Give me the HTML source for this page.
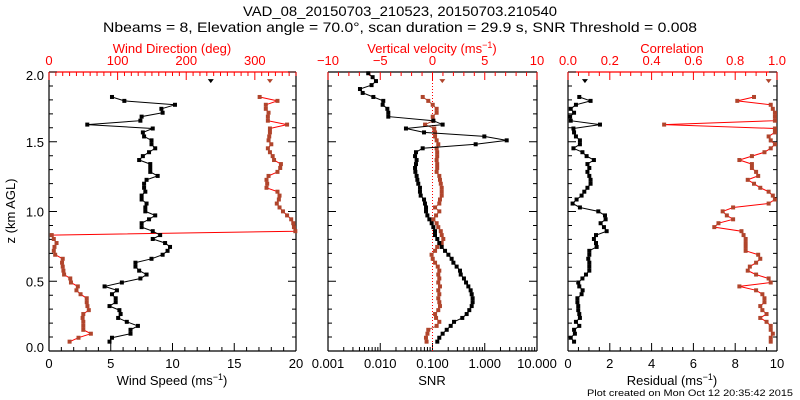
<!DOCTYPE html>
<html><head><meta charset="utf-8"><style>
body{margin:0;background:#fff}
svg{display:block}
text{font-family:"Liberation Sans",sans-serif}
</style></head><body>
<svg id="chart" width="800" height="400" viewBox="0 0 800 400" xmlns="http://www.w3.org/2000/svg">
<text x="400" y="16" font-size="14" text-anchor="middle" textLength="314" lengthAdjust="spacingAndGlyphs">VAD_08_20150703_210523, 20150703.210540</text>
<text x="400" y="32" font-size="14" text-anchor="middle" textLength="594" lengthAdjust="spacingAndGlyphs">Nbeams = 8, Elevation angle = 70.0°, scan duration = 29.9 s, SNR Threshold = 0.008</text>
<text transform="translate(15,211) rotate(-90)" font-size="13" text-anchor="middle">z (km AGL)</text>
<text x="793" y="396" font-size="9.5" text-anchor="end" textLength="206" lengthAdjust="spacingAndGlyphs">Plot created on Mon Oct 12 20:35:42 2015</text>
<g id="g"></g>
</svg>
<script>
const heights=[0.067,0.095,0.124,0.152,0.180,0.209,0.237,0.265,0.293,0.322,0.350,0.378,0.407,0.435,0.463,0.491,0.520,0.548,0.576,0.605,0.633,0.661,0.690,0.718,0.746,0.774,0.803,0.831,0.859,0.888,0.916,0.944,0.972,1.001,1.029,1.057,1.086,1.114,1.142,1.170,1.199,1.227,1.255,1.284,1.312,1.340,1.369,1.397,1.425,1.453,1.482,1.510,1.538,1.567,1.595,1.623,1.651,1.680,1.708,1.736,1.765,1.793,1.821,1.850,1.878,1.906,1.935,1.963,1.991];
const windSpeed=[4.9,5.1,6.6,6.6,7.2,6.3,5.6,5.8,5.7,4.9,5.4,5.4,5.1,5.5,4.5,5.9,7.4,7.9,7.3,7.0,7.0,8.3,9.2,9.6,9.8,9.4,8.4,9.0,8.4,7.5,7.5,8.1,8.6,7.8,7.8,7.9,7.5,7.5,7.8,7.7,7.7,7.9,8.8,8.2,8.2,8.2,7.3,7.6,8.1,8.6,8.3,8.3,7.7,7.6,8.4,3.1,7.4,7.5,9.2,9.1,10.2,6.1,5.1,null,null,null,13.1];
const windDir=[30,43,61,50,50,50,49,50,58,56,55,55,46,40,42,32,31,22,21,20,19,20,9,7,8,11,7,4,359,357,356,353,347,341,336,332,335,336,333,317,318,317,320,333,337,338,328,326,322,319,324,320,321,322,322,347,319,319,320,316,316,333,307,null,null,null,322];
const vertVel=[0.46,0.65,0.97,1.36,1.74,2.06,2.85,3.27,3.52,3.75,3.84,3.84,3.75,3.65,3.43,3.21,3.01,2.70,2.63,2.31,2.0,1.83,1.52,1.20,0.88,0.65,0.46,0.24,0.24,0.08,-0.08,-0.30,-0.49,-0.62,-0.62,-0.72,-0.81,-1.13,-1.20,-1.20,-1.36,-1.45,-1.52,-1.64,-1.67,-1.58,-1.52,-1.67,-1.58,-0.94,4.13,7.10,4.96,-0.81,-2.54,0.97,0.08,-4.23,-4.23,-4.32,-4.77,-4.71,-5.66,-6.68,-6.94,-5.83,-5.41,-5.73,-6.15];
const snr=[0.077,0.075,0.080,0.083,0.120,0.135,0.117,0.112,0.129,0.139,0.135,0.129,0.135,0.129,0.139,0.129,0.135,0.129,0.135,0.126,0.112,0.101,0.096,0.112,0.123,0.150,0.161,0.150,0.144,0.129,0.120,0.104,0.117,0.135,0.112,0.135,0.139,0.150,0.150,0.150,0.144,0.139,0.135,0.120,0.123,0.123,0.120,0.123,0.123,0.120,0.129,0.120,0.112,0.112,0.108,0.072,0.104,0.101,0.120,0.120,0.101,0.083,0.065,null,null,null,0.154];
const residual=[0.29,0.13,0.33,0.29,0.54,0.38,0.57,0.54,0.49,0.49,0.45,0.45,0.65,0.70,0.54,0.49,0.69,0.86,1.02,1.02,1.02,0.97,1.02,1.02,1.37,1.34,1.24,1.34,1.85,1.72,1.56,1.80,1.77,1.45,0.57,0.22,0.41,0.65,0.78,0.93,1.08,1.08,1.02,0.93,1.02,0.93,1.24,0.89,0.69,0.26,0.57,0.57,0.38,0.29,0.26,1.53,0.13,0.10,0.29,0.13,0.38,1.08,0.54,null,null,null,0.81];
const correlation=[0.97,0.97,0.98,0.97,0.97,0.95,0.92,0.95,0.93,0.92,0.94,0.94,0.93,0.90,0.82,0.97,0.96,0.90,0.86,0.87,0.90,0.92,0.91,0.85,0.85,0.85,0.85,0.84,0.83,0.70,0.72,0.79,0.76,0.74,0.79,0.96,0.99,0.98,0.96,0.92,0.89,0.86,0.91,0.90,0.88,0.88,0.82,0.88,0.94,0.97,0.99,0.97,0.96,0.99,0.99,0.46,0.99,0.99,0.99,0.98,0.97,0.81,0.89,null,null,null,0.96];
const speedTicks=["0","5","10","15","20"];
const dirTicks=["0","100","200","300"];
const vvTicks=["\u221210","\u22125","0","5","10"];
const snrTicks=["0.001","0.010","0.100","1.000","10.000"];
const resTicks=["0","2","4","6","8","10"];
const corTicks=["0.0","0.2","0.4","0.6","0.8","1.0"];
const zTicks=["0.0","0.5","1.0","1.5","2.0"];

const NS="http://www.w3.org/2000/svg";
const G=document.getElementById('g');
const Y0=351,Y1=72;
function yS(z){return Y0-(Y0-Y1)*z/2;}
function lin(a,b,x0,x1){return v=>x0+(v-a)/(b-a)*(x1-x0);}
function mk(tag,attrs){const e=document.createElementNS(NS,tag);for(const k in attrs)e.setAttribute(k,attrs[k]);G.appendChild(e);return e;}
const RED="#ff0000",BRN="#b0452c";

function frame(name,x0,x1,topColor){
  const l=mk('line',{x1:x0,y1:Y0,x2:x1,y2:Y0,stroke:'#000','stroke-width':1.2});
  
  const r=mk('path',{d:`M${x0},${Y0}V${Y1}M${x1},${Y0}V${Y1}`,stroke:'#000','stroke-width':1.2,fill:'none'});
  
  const t=mk('line',{x1:x0,y1:Y1,x2:x1,y2:Y1,stroke:topColor,'stroke-width':1.2});
  
  // y ticks
  let d='';
  for(let k=0;k<=20;k++){const y=yS(k*0.1);const L=(k%5==0)?8:4;d+=`M${x0},${y}h${L}M${x1},${y}h${-L}`;}
  const yt=mk('path',{d:d,stroke:'#000','stroke-width':1,fill:'none'});
  
}
function ticksH(name,scale,vals,majorEvery,y,dir,color){
  let d='';
  vals.forEach((v,i)=>{const L=(i%majorEvery==0)?8:4;d+=`M${scale(v)},${y}v${dir*L}`;});
  const p=mk('path',{d:d,stroke:color,'stroke-width':1,fill:'none'});
  
}
function label(name,x,y,txt,color,size,anchor){
  const t=mk('text',{x:x,y:y,fill:color,'font-size':size||13,'text-anchor':anchor||'middle'});
  t.textContent=txt;
  
  return t;
}
function rangeVals(a,b,s){const r=[];for(let v=a;v<=b+1e-9;v+=s)r.push(+v.toFixed(4));return r;}
function series(name,vals,xs,lineColor,markColor){
  let d='',pen=false;
  for(let i=0;i<vals.length;i++){
    const v=vals[i];
    if(v===null||v===undefined){pen=false;continue;}
    const isolated=(i>0&&vals[i-1]===null)&&(i==vals.length-1||vals[i+1]===null);
    if(isolated)continue;
    d+=(pen?'L':'M')+xs(v).toFixed(1)+','+yS(heights[i]).toFixed(1);pen=true;
  }
  const p=mk('path',{d:d,stroke:lineColor,'stroke-width':1,fill:'none'});
  
  for(let i=0;i<vals.length;i++){
    const v=vals[i];if(v===null||v===undefined)continue;
    const x=xs(v),y=yS(heights[i]);
    const isolated=(i>0&&vals[i-1]===null)&&(i==vals.length-1||vals[i+1]===null);
    let m;
    if(isolated){m=mk('path',{d:`M${x-3},${y-2}h6l-3,4z`,fill:markColor});}
    else{m=mk('rect',{x:x-2,y:y-2,width:4,height:4,fill:markColor});}
    
  }
}

// Panel 1
const p1x0=49,p1x1=296;
const sX=lin(0,20,p1x0,p1x1), dX=lin(0,360,p1x0,p1x1);
frame('panel-wind',p1x0,p1x1,RED);
ticksH('wind-speed-ticks',sX,rangeVals(0,20,1),5,Y0,-1,'#000');
ticksH('wind-dir-ticks',dX,rangeVals(0,360,10),10,Y1,1,RED);
speedTicks.forEach(t=>label('speed-tick-label',sX(+t),368,t,'#000'));
dirTicks.forEach(t=>label('dir-tick-label',dX(+t),65,t,RED));
zTicks.forEach(t=>label('z-tick-label',44,yS(+t)+5+(t=="2.0"?3:0)-(t=="0.0"?4:0),t,'#000',13,'end'));
const wsT=label('x-axis-title-speed',172,385,'Wind Speed (ms','#000');
const sp1=document.createElementNS(NS,'tspan');sp1.setAttribute('dy','-5');sp1.setAttribute('font-size','9');sp1.textContent='\u22121';wsT.appendChild(sp1);
const sp1b=document.createElementNS(NS,'tspan');sp1b.setAttribute('dy','5');sp1b.textContent=')';wsT.appendChild(sp1b);
label('x-axis-title-direction',172,53,'Wind Direction (deg)',RED);
series('wind-direction',windDir,dX,RED,BRN);
series('wind-speed',windSpeed,sX,'#000','#000');

// Panel 2
const p2x0=328,p2x1=537;
const vX=lin(-10,10,p2x0,p2x1);
const lX=v=>p2x0+(Math.log10(v)+3)/4*(p2x1-p2x0);
frame('panel-vv',p2x0,p2x1,'#000');
ticksH('vv-ticks',vX,rangeVals(-10,10,1),5,Y1,1,RED);
let logv=[];for(let e=-3;e<1;e++)for(let m=1;m<10;m++)logv.push(m*Math.pow(10,e));logv.push(10);
let dl='';logv.forEach(v=>{const mj=Math.abs(Math.log10(v)-Math.round(Math.log10(v)))<1e-6;dl+=`M${lX(v)},${Y0}v${mj?-8:-4}`;});
const lt=mk('path',{d:dl,stroke:'#000','stroke-width':1,fill:'none'});

const zl=mk('line',{x1:vX(0),y1:Y0,x2:vX(0),y2:Y1,stroke:RED,'stroke-width':1,'stroke-dasharray':'1,2'});

vvTicks.forEach((t,i)=>label('vv-tick-label',vX(-10+5*i),65,t,RED));
snrTicks.forEach(t=>label('snr-tick-label',lX(+t),368,t,'#000'));
const vvT=label('x-axis-title-vv',432,53,'Vertical velocity (ms',RED);
const sp2=document.createElementNS(NS,'tspan');sp2.setAttribute('dy','-5');sp2.setAttribute('font-size','9');sp2.textContent='\u22121';vvT.appendChild(sp2);
const sp2b=document.createElementNS(NS,'tspan');sp2b.setAttribute('dy','5');sp2b.textContent=')';vvT.appendChild(sp2b);
label('x-axis-title-snr',432,385,'SNR','#000');
series('snr',snr,lX,BRN,BRN);
series('vertical-velocity',vertVel,vX,'#000','#000');

// Panel 3
const p3x0=568,p3x1=777;
const rX=lin(0,10,p3x0,p3x1), cX=lin(0,1,p3x0,p3x1);
frame('panel-res',p3x0,p3x1,RED);
ticksH('residual-ticks',rX,rangeVals(0,10,0.5),4,Y0,-1,'#000');
ticksH('corr-ticks',cX,rangeVals(0,1,0.05),4,Y1,1,RED);
resTicks.forEach(t=>label('residual-tick-label',rX(+t),368,t,'#000'));
corTicks.forEach(t=>label('corr-tick-label',cX(+t),65,t,RED));
const rsT=label('x-axis-title-residual',672,385,'Residual (ms','#000');
const sp3=document.createElementNS(NS,'tspan');sp3.setAttribute('dy','-5');sp3.setAttribute('font-size','9');sp3.textContent='\u22121';rsT.appendChild(sp3);
const sp3b=document.createElementNS(NS,'tspan');sp3b.setAttribute('dy','5');sp3b.textContent=')';rsT.appendChild(sp3b);
label('x-axis-title-correlation',672,53,'Correlation',RED);
series('correlation',correlation,cX,RED,BRN);
series('residual',residual,rX,'#000','#000');
</script>
</body></html>
